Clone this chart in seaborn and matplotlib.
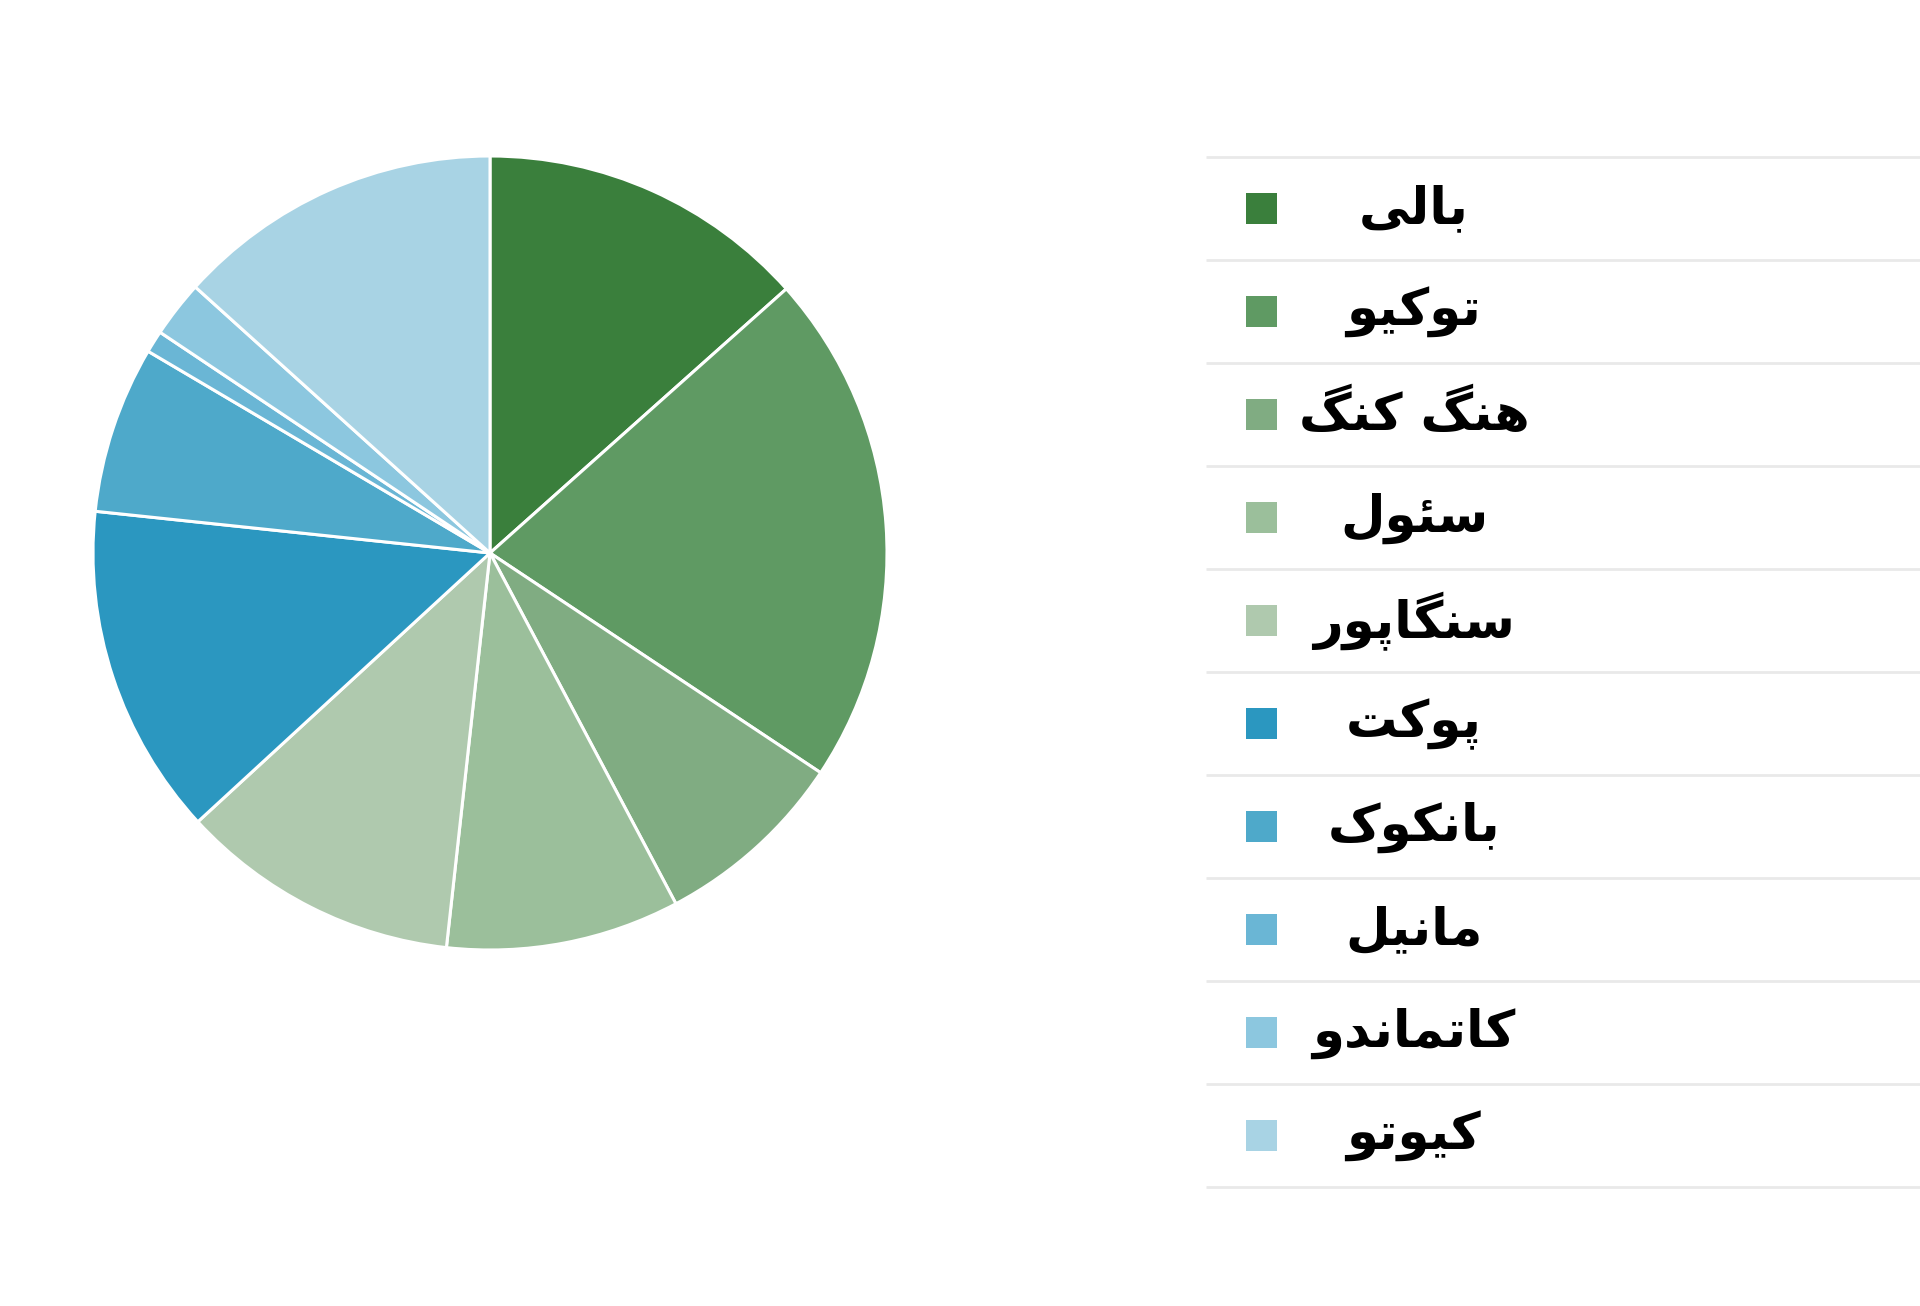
import matplotlib
matplotlib.use("Agg")
import matplotlib.pyplot as plt
from matplotlib.patches import Rectangle
import seaborn as sns

# ---- data ----
cities = ["بالی", "توکیو", "هنگ کنگ", "سئول", "سنگاپور",
          "پوکت", "بانکوک", "مانیل", "کاتماندو", "کیوتو"]
shares = [13.4, 20.9, 7.9, 9.5, 11.4, 13.5, 6.8, 0.9, 2.3, 13.3]
colors = ["#3a7f3c", "#5f9a63", "#80ac82", "#9bbf9b", "#afc9ae",
          "#2b97c0", "#4ea9ca", "#6ab6d5", "#8cc7df", "#a8d3e4"]

# ---- minimal Arabic/Persian shaping (matplotlib has no complex text layout) ----
FORMS = {
    'ا': ('\uFE8D', '\uFE8E', None, None),
    'ب': ('\uFE8F', '\uFE90', '\uFE91', '\uFE92'),
    'پ': ('\uFB56', '\uFB57', '\uFB58', '\uFB59'),
    'ت': ('\uFE95', '\uFE96', '\uFE97', '\uFE98'),
    'د': ('\uFEA9', '\uFEAA', None, None),
    'ر': ('\uFEAD', '\uFEAE', None, None),
    'س': ('\uFEB1', '\uFEB2', '\uFEB3', '\uFEB4'),
    'ل': ('\uFEDD', '\uFEDE', '\uFEDF', '\uFEE0'),
    'م': ('\uFEE1', '\uFEE2', '\uFEE3', '\uFEE4'),
    'ن': ('\uFEE5', '\uFEE6', '\uFEE7', '\uFEE8'),
    'ه': ('\uFEE9', '\uFEEA', '\uFEEB', '\uFEEC'),
    'و': ('\uFEED', '\uFEEE', None, None),
    'ی': ('\uFBFC', '\uFBFD', '\uFBFE', '\uFBFF'),
    'ک': ('\uFB8E', '\uFB8F', '\uFB90', '\uFB91'),
    'گ': ('\uFB92', '\uFB93', '\uFB94', '\uFB95'),
    'ئ': ('\uFE89', '\uFE8A', '\uFE8B', '\uFE8C'),
}


def shape(text):
    out = []
    n = len(text)
    for i, ch in enumerate(text):
        if ch not in FORMS:
            out.append(ch)
            continue
        iso, fin, ini, med = FORMS[ch]
        prev = text[i - 1] if i > 0 else None
        nxt = text[i + 1] if i < n - 1 else None
        jp = prev in FORMS and FORMS[prev][2] is not None
        jn = ini is not None and nxt in FORMS
        if jp and jn:
            out.append(med)
        elif jp:
            out.append(fin)
        elif jn:
            out.append(ini)
        else:
            out.append(iso)
    return "".join(reversed(out))


sns.set_theme(style="white")
plt.rcParams['font.family'] = ['DejaVu Sans']

W, H = 1920, 1306
fig = plt.figure(figsize=(W / 100, H / 100), dpi=100)
fig.patch.set_facecolor("white")

# ---- pie ----
cx, cy, r = 490, 553, 397
ax = fig.add_axes([(cx - r) / W, (H - cy - r) / H, 2 * r / W, 2 * r / H])
ax.pie(shares, colors=colors, startangle=90, counterclock=False,
       wedgeprops=dict(edgecolor="white", linewidth=2.2, antialiased=True))
ax.set_xlim(-1, 1)
ax.set_ylim(-1, 1)
ax.set_aspect("equal")
ax.axis("off")

# ---- legend (drawn in pixel coordinates) ----
lg = fig.add_axes([0, 0, 1, 1], zorder=-1)
lg.set_xlim(0, W)
lg.set_ylim(H, 0)
lg.axis("off")

top, step = 157, 103
for i, (name, col) in enumerate(zip(cities, colors)):
    y0 = top + i * step
    lg.plot([1206, W], [y0, y0], color="#e9e9e9", lw=2, solid_capstyle="butt")
    yc = y0 + step / 2
    lg.add_patch(Rectangle((1246, yc - 15.5), 31, 31, facecolor=col, edgecolor="none"))
    lg.text(1414, yc + 1, shape(name), ha="center", va="center",
            fontsize=37, fontweight="bold", color="#000000")
y_last = top + len(cities) * step
lg.plot([1206, W], [y_last, y_last], color="#e9e9e9", lw=2, solid_capstyle="butt")

fig.savefig("out.png", dpi=100, facecolor="white")
